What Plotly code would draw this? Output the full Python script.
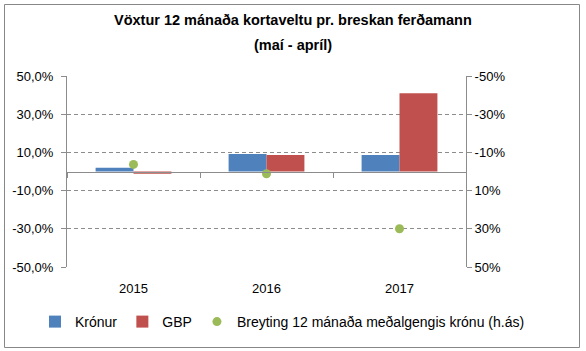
import plotly.graph_objects as go

categories = ["2015", "2016", "2017"]
kronur = [1.9, 9.1, 8.6]
gbp = [-1.2, 8.6, 41.0]
breyting = [-3.7, 1.2, 30.0]

left_tickvals = [-50, -30, -10, 10, 30, 50]
left_ticktext = ["-50,0%", "-30,0%", "-10,0%", "10,0%", "30,0%", "50,0%"]
right_tickvals = [-50, -30, -10, 10, 30, 50]
right_ticktext = ["-50%", "-30%", "-10%", "10%", "30%", "50%"]

title_line1 = "Vöxtur 12 mánaða kortaveltu pr. breskan ferðamann"
title_line2 = "(maí - apríl)"

FONT = "Liberation Sans"
GRID = "#8c8c8c"

fig = go.Figure()
fig.add_trace(go.Bar(x=categories, y=kronur, name="Krónur", marker_color="#4F81BD",
                     marker_line_width=0))
fig.add_trace(go.Bar(x=categories, y=gbp, name="GBP", marker_color="#C0504D",
                     marker_line_width=0))
fig.add_trace(go.Scatter(x=categories, y=breyting, name="Breyting 12 mánaða meðalgengis krónu (h.ás)",
                         mode="markers", marker=dict(color="#9BBB59", size=9),
                         xaxis="x2", yaxis="y2"))

fig.update_layout(
    width=586, height=351,
    margin=dict(l=67, r=120, t=76, b=84, autoexpand=False),
    paper_bgcolor="white", plot_bgcolor="white",
    font=dict(family=FONT, size=12, color="#000000"),
    barmode="group", bargap=0.43, bargroupgap=0,
    showlegend=True,
    legend=dict(orientation="h", xref="paper", yref="paper",
                x=(530 - 67) / 399, xanchor="right", y=(267 - 322) / 191, yanchor="middle",
                font=dict(size=14, family=FONT), traceorder="normal",
                bgcolor="rgba(0,0,0,0)"),
    xaxis=dict(type="category", range=[-0.5, 2.5], showline=False, showgrid=False,
               ticks="", tickfont=dict(size=13), automargin=False, ticklabelstandoff=12),
    xaxis2=dict(type="category", overlaying="x", anchor="free", position=0.5,
                range=[-0.5, 2.5], showline=True, linecolor=GRID, linewidth=1,
                ticks="outside", ticklen=5, tickcolor=GRID, tickson="boundaries",
                showticklabels=False, showgrid=False, automargin=False),
    yaxis=dict(range=[-50, 50], tickvals=left_tickvals, ticktext=left_ticktext,
               showline=True, linecolor=GRID, linewidth=1, ticks="outside", ticklen=5,
               tickcolor=GRID, showgrid=True, gridcolor=GRID, griddash="4px,3px",
               zeroline=False, tickfont=dict(size=13), automargin=False,
               ticklabelstandoff=5),
    yaxis2=dict(range=[50, -50], tickvals=right_tickvals, ticktext=right_ticktext,
                overlaying="y", side="right", showline=True, linecolor=GRID, linewidth=1,
                ticks="outside", ticklen=5, tickcolor=GRID, showgrid=False, zeroline=False,
                tickfont=dict(size=13), automargin=False),
    annotations=[
        dict(text="<b>" + title_line1 + "</b>", xref="paper", yref="paper",
             x=(293 - 67) / 399, y=(267 - 20) / 191, xanchor="center", yanchor="middle",
             showarrow=False, font=dict(size=14.5, family=FONT)),
        dict(text="<b>" + title_line2 + "</b>", xref="paper", yref="paper",
             x=(293 - 67) / 399, y=(267 - 45) / 191, xanchor="center", yanchor="middle",
             showarrow=False, font=dict(size=14.5, family=FONT)),
    ],
    shapes=[
        dict(type="rect", xref="paper", yref="paper",
             x0=(4.5 - 67) / 399, x1=(579.5 - 67) / 399,
             y0=(267 - 347.5) / 191, y1=(267 - 4.5) / 191,
             line=dict(color="#888888", width=1), fillcolor="rgba(0,0,0,0)", layer="below"),
    ],
)

fig.write_html("out.html")
